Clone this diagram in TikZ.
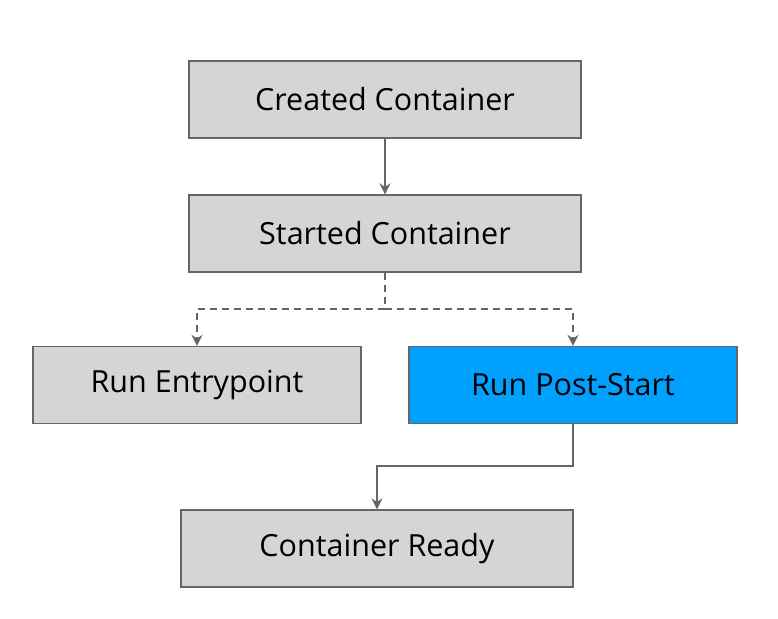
\documentclass[tikz,border=0pt]{standalone}
\usepackage{fontspec}
\setmainfont{Open Sans}
\usetikzlibrary{arrows.meta}
\definecolor{boxgray}{HTML}{D5D5D5}
\definecolor{linegray}{HTML}{666666}
\definecolor{hlblue}{HTML}{00A0FF}
\begin{document}
\begin{tikzpicture}[x=1pt,y=-1pt,
  stepbox/.style={draw=linegray, line width=1.3pt, fill=boxgray, minimum width=392pt, minimum height=77pt, inner sep=0pt, font=\fontsize{30.5}{36}\selectfont},
  widebox/.style={stepbox, minimum width=328pt},
  conn/.style={draw=linegray, line width=2.2pt, -{Stealth[length=11pt,width=11pt]}},
  dconn/.style={conn, dash pattern=on 7pt off 5pt}]
\useasboundingbox (0,0) rectangle (778,618);
\node[stepbox] (created) at (385,99.5) {Created Container};
\node[stepbox] (started) at (385,233.5) {Started Container};
\node[widebox] (entry) at (197,385) {Run Entrypoint};
\node[widebox, fill=hlblue] (post) at (573,385) {Run Post-Start};
\node[stepbox] (ready) at (377,548.5) {Container Ready};
\coordinate (split) at (385,309);
\draw[conn] (created) -- (started);
\draw[draw=linegray, line width=2.2pt, dash pattern=on 7pt off 5pt] (started.south) -- (split);
\draw[dconn] (split) -| (entry.north);
\draw[dconn] (split) -| (post.north);
\draw[conn] (post.south) |- (377,466) -- (ready.north);
\end{tikzpicture}
\end{document}
